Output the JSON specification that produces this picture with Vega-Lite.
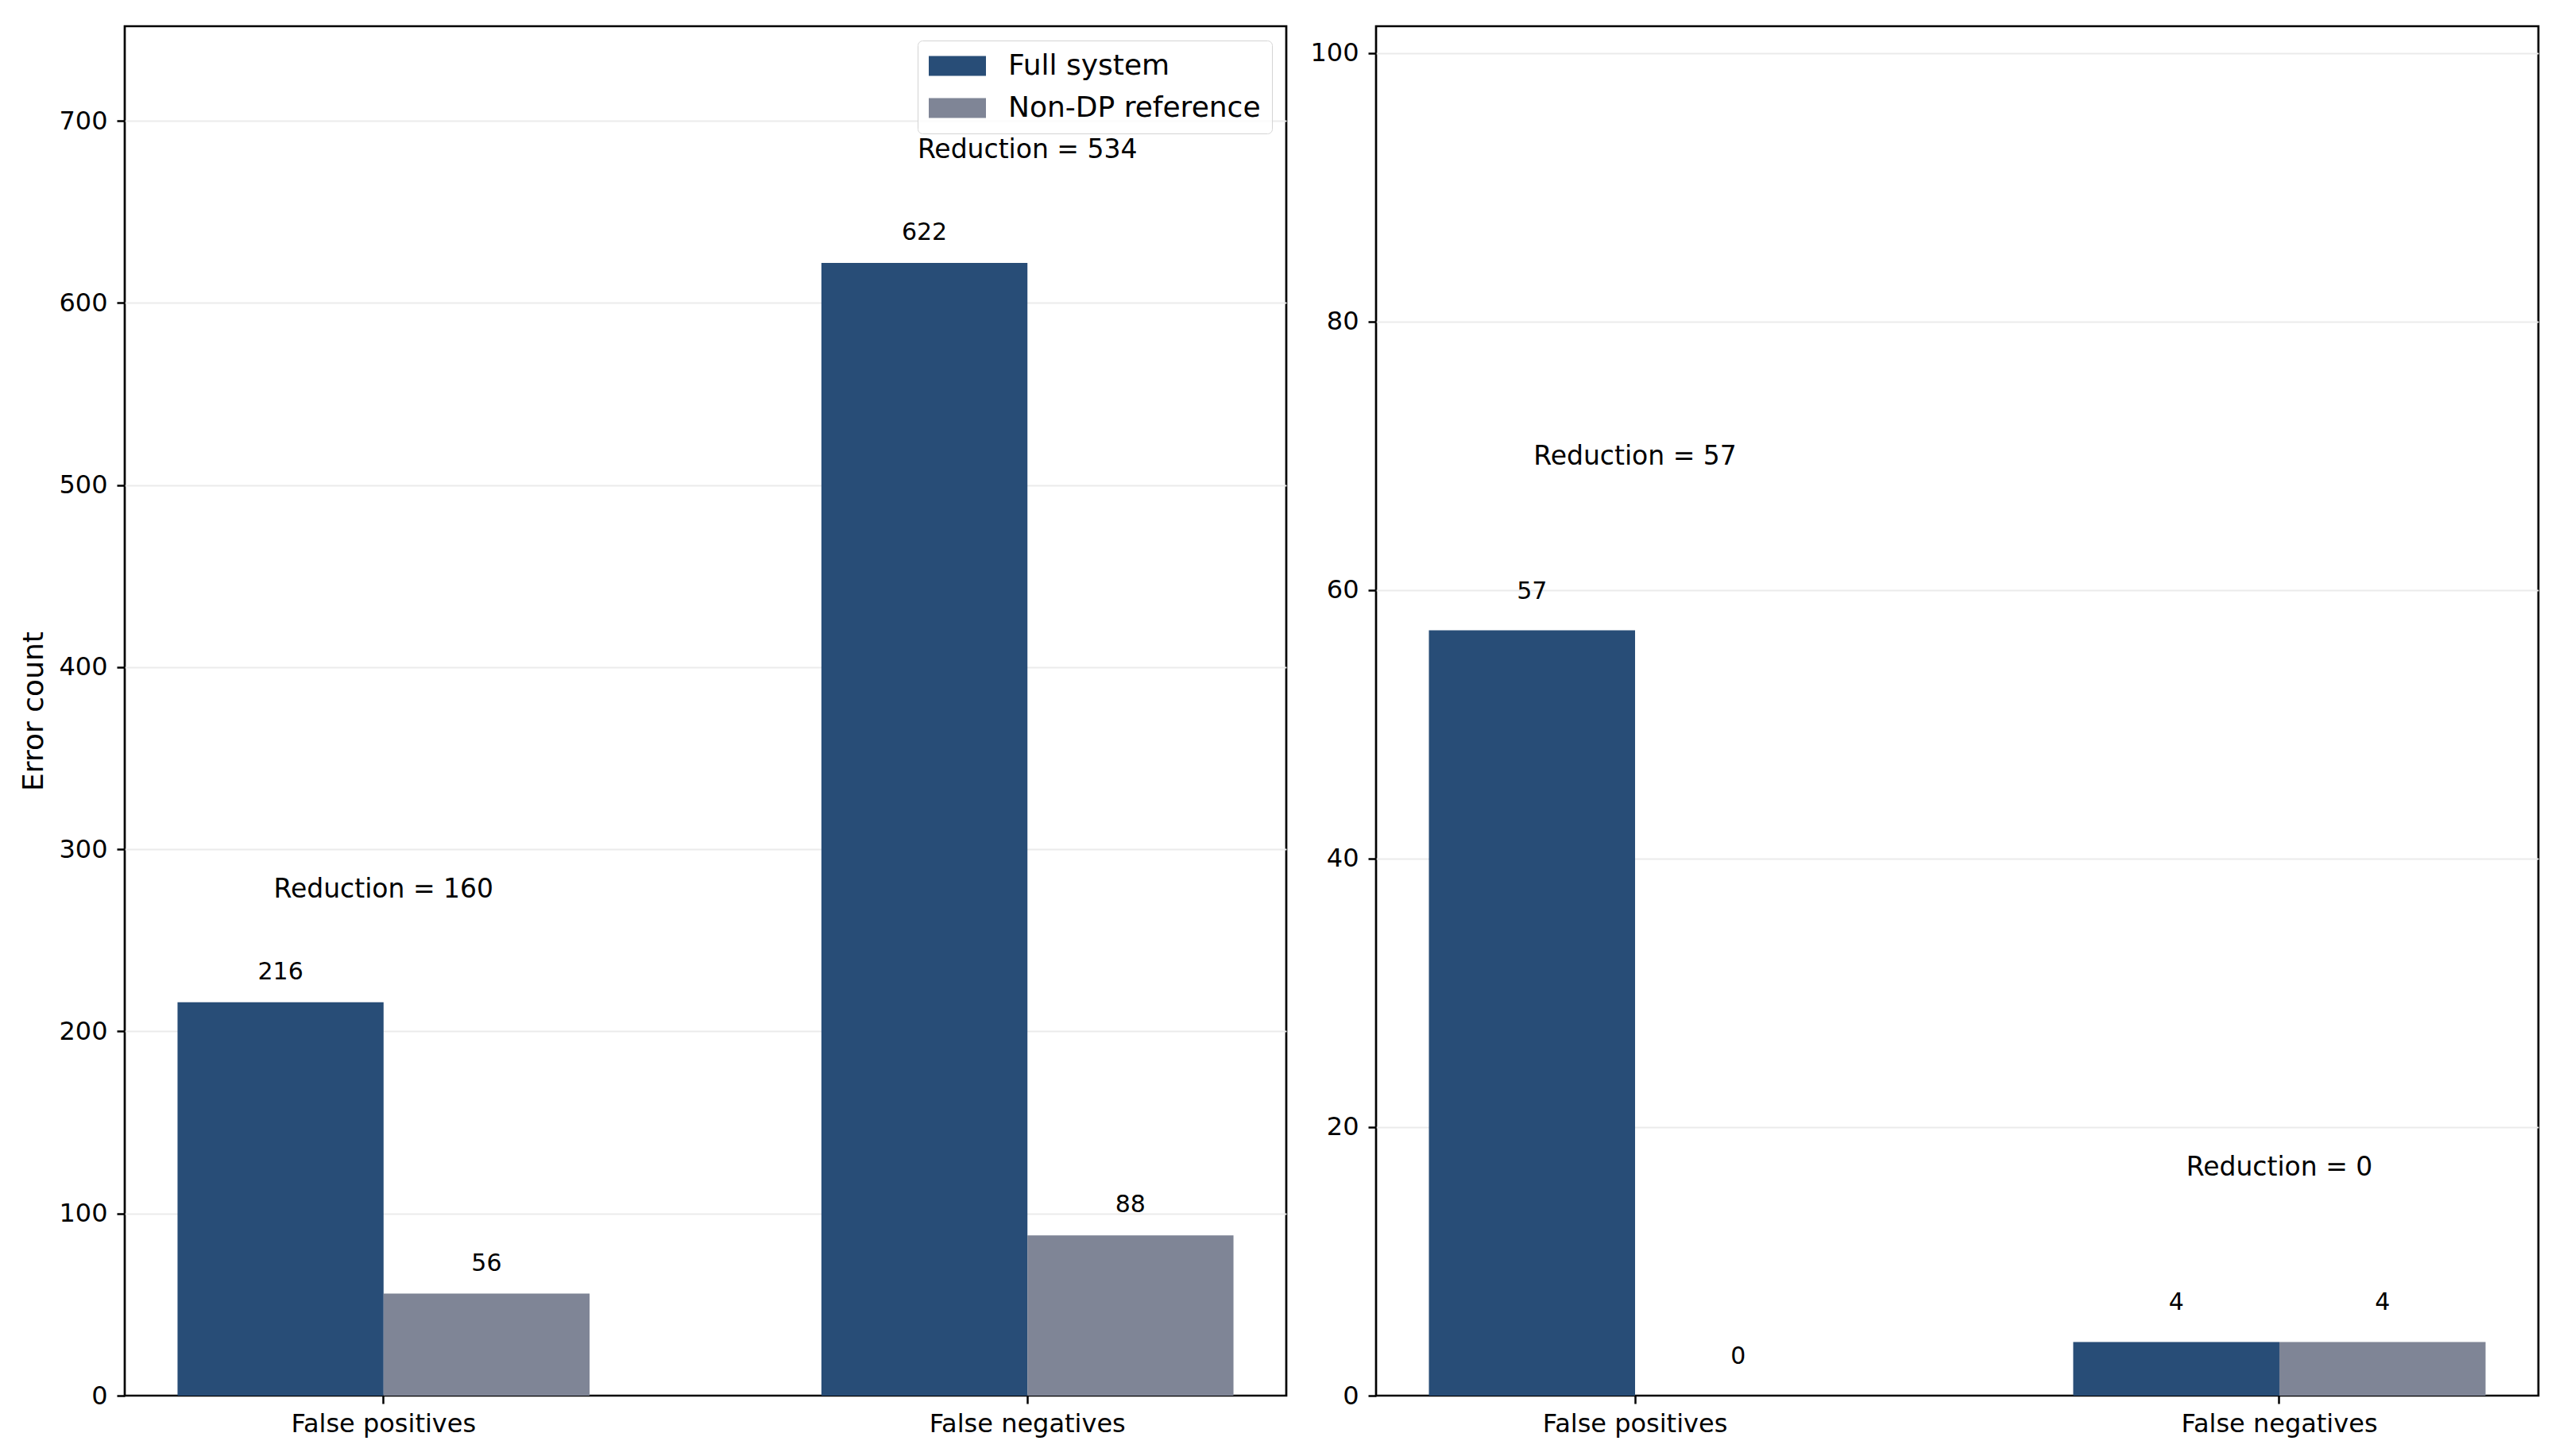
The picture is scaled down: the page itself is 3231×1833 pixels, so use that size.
{
  "$schema": "https://vega.github.io/schema/vega-lite/v6.json",
  "padding": {"left": 23, "top": 31, "right": 5, "bottom": 5},
  "background": "white",
  "config": {
    "font": "DejaVu Sans",
    "view": {"stroke": "black", "strokeWidth": 2.7},
    "axis": {
      "domain": false,
      "tickColor": "black",
      "tickWidth": 2.5,
      "tickSize": 10,
      "labelColor": "black",
      "labelFont": "DejaVu Sans",
      "labelFontSize": 32,
      "labelLimit": 1000,
      "titleFont": "DejaVu Sans",
      "titleFontSize": 36,
      "titleFontWeight": "normal",
      "titleColor": "black",
      "gridColor": "#ebebeb",
      "gridWidth": 2
    },
    "concat": {"spacing": 26}
  },
  "datasets": {
    "leftBars": [
      {"category": "False positives", "series": "Full system", "value": 216},
      {"category": "False positives", "series": "Non-DP reference", "value": 56},
      {"category": "False negatives", "series": "Full system", "value": 622},
      {"category": "False negatives", "series": "Non-DP reference", "value": 88}
    ],
    "rightBars": [
      {"category": "False positives", "series": "Full system", "value": 57},
      {"category": "False positives", "series": "Non-DP reference", "value": 0},
      {"category": "False negatives", "series": "Full system", "value": 4},
      {"category": "False negatives", "series": "Non-DP reference", "value": 4}
    ],
    "leftRed": [
      {"category": "False positives", "max_count": 216, "label": "Reduction = 160"},
      {"category": "False negatives", "max_count": 622, "label": "Reduction = 534"}
    ],
    "rightRed": [
      {"category": "False positives", "max_count": 57, "label": "Reduction = 57"},
      {"category": "False negatives", "max_count": 4, "label": "Reduction = 0"}
    ]
  },
  "hconcat": [
    {
      "width": 1462,
      "height": 1724,
      "layer": [
        {
          "data": {"name": "leftBars"},
          "mark": {"type": "bar"},
          "encoding": {
            "x": {"field": "category", "type": "nominal", "sort": ["False positives", "False negatives"], "title": null,
                  "scale": {"paddingInner": 0.36, "paddingOuter": 0.082},
                  "axis": {"labelAngle": 0, "labelPadding": 10, "grid": false}},
            "xOffset": {"field": "series", "type": "nominal", "sort": ["Full system", "Non-DP reference"], "scale": {"paddingInner": 0, "paddingOuter": 0}},
            "y": {"field": "value", "type": "quantitative", "title": "Error count",
                  "scale": {"domain": [0, 752], "nice": false, "zero": true},
                  "axis": {"values": [0, 100, 200, 300, 400, 500, 600, 700], "labelPadding": 12, "titlePadding": 12, "grid": true,
                           "gridOpacity": {"condition": {"test": "datum.value === 0", "value": 0}, "value": 1}}},
            "color": {"field": "series", "type": "nominal", "sort": ["Full system", "Non-DP reference"],
                      "scale": {"domain": ["Full system", "Non-DP reference"], "range": ["#284d77", "#7f8596"]},
                      "legend": {"title": null, "orient": "top-right", "offset": 18, "labelFontSize": 36, "labelFont": "DejaVu Sans", "labelColor": "black",
                                 "symbolType": "M-1,-0.7H3V0.7H-1Z", "symbolSize": 1296, "symbolStrokeWidth": 0, "symbolOpacity": 1,
                                 "labelOffset": 64, "rowPadding": 17, "padding": 14, "labelLimit": 800,
                                 "strokeColor": "#d4d4d4", "cornerRadius": 6, "fillColor": "rgba(255,255,255,0.8)"}}
          }
        },
        {
          "data": {"name": "leftBars"},
          "mark": {"type": "text", "dy": -29, "baseline": "alphabetic", "fontSize": 30, "color": "black"},
          "encoding": {
            "x": {"field": "category", "type": "nominal", "sort": ["False positives", "False negatives"], "title": null},
            "xOffset": {"field": "series", "type": "nominal", "sort": ["Full system", "Non-DP reference"]},
            "y": {"field": "value", "type": "quantitative", "title": "Error count", "scale": {"domain": [0, 752], "nice": false}},
            "text": {"field": "value", "type": "quantitative"}
          }
        },
        {
          "data": {"name": "leftRed"},
          "mark": {"type": "text", "dy": -132, "baseline": "alphabetic", "fontSize": 33, "color": "black"},
          "encoding": {
            "x": {"field": "category", "type": "nominal", "sort": ["False positives", "False negatives"], "title": null},
            "y": {"field": "max_count", "type": "quantitative", "title": "Error count", "scale": {"domain": [0, 752], "nice": false}},
            "text": {"field": "label", "type": "nominal"}
          }
        }
      ]
    },
    {
      "width": 1463,
      "height": 1724,
      "layer": [
        {
          "data": {"name": "rightBars"},
          "mark": {"type": "bar"},
          "encoding": {
            "x": {"field": "category", "type": "nominal", "sort": ["False positives", "False negatives"], "title": null,
                  "scale": {"paddingInner": 0.36, "paddingOuter": 0.082},
                  "axis": {"labelAngle": 0, "labelPadding": 10, "grid": false}},
            "xOffset": {"field": "series", "type": "nominal", "sort": ["Full system", "Non-DP reference"], "scale": {"paddingInner": 0, "paddingOuter": 0}},
            "y": {"field": "value", "type": "quantitative", "title": null,
                  "scale": {"domain": [0, 102], "nice": false, "zero": true},
                  "axis": {"values": [0, 20, 40, 60, 80, 100], "labelPadding": 12, "grid": true,
                           "gridOpacity": {"condition": {"test": "datum.value === 0", "value": 0}, "value": 1}}},
            "color": {"field": "series", "type": "nominal", "sort": ["Full system", "Non-DP reference"],
                      "scale": {"domain": ["Full system", "Non-DP reference"], "range": ["#284d77", "#7f8596"]},
                      "legend": null}
          }
        },
        {
          "data": {"name": "rightBars"},
          "mark": {"type": "text", "dy": -40, "baseline": "alphabetic", "fontSize": 30, "color": "black"},
          "encoding": {
            "x": {"field": "category", "type": "nominal", "sort": ["False positives", "False negatives"], "title": null},
            "xOffset": {"field": "series", "type": "nominal", "sort": ["Full system", "Non-DP reference"]},
            "y": {"field": "value", "type": "quantitative", "title": null, "scale": {"domain": [0, 102], "nice": false}},
            "text": {"field": "value", "type": "quantitative"}
          }
        },
        {
          "data": {"name": "rightRed"},
          "mark": {"type": "text", "dy": -209, "baseline": "alphabetic", "fontSize": 33, "color": "black"},
          "encoding": {
            "x": {"field": "category", "type": "nominal", "sort": ["False positives", "False negatives"], "title": null},
            "y": {"field": "max_count", "type": "quantitative", "title": null, "scale": {"domain": [0, 102], "nice": false}},
            "text": {"field": "label", "type": "nominal"}
          }
        }
      ]
    }
  ],
  "resolve": {"scale": {"color": "independent", "y": "independent", "x": "independent", "xOffset": "independent"}, "legend": {"color": "independent"}}
}
